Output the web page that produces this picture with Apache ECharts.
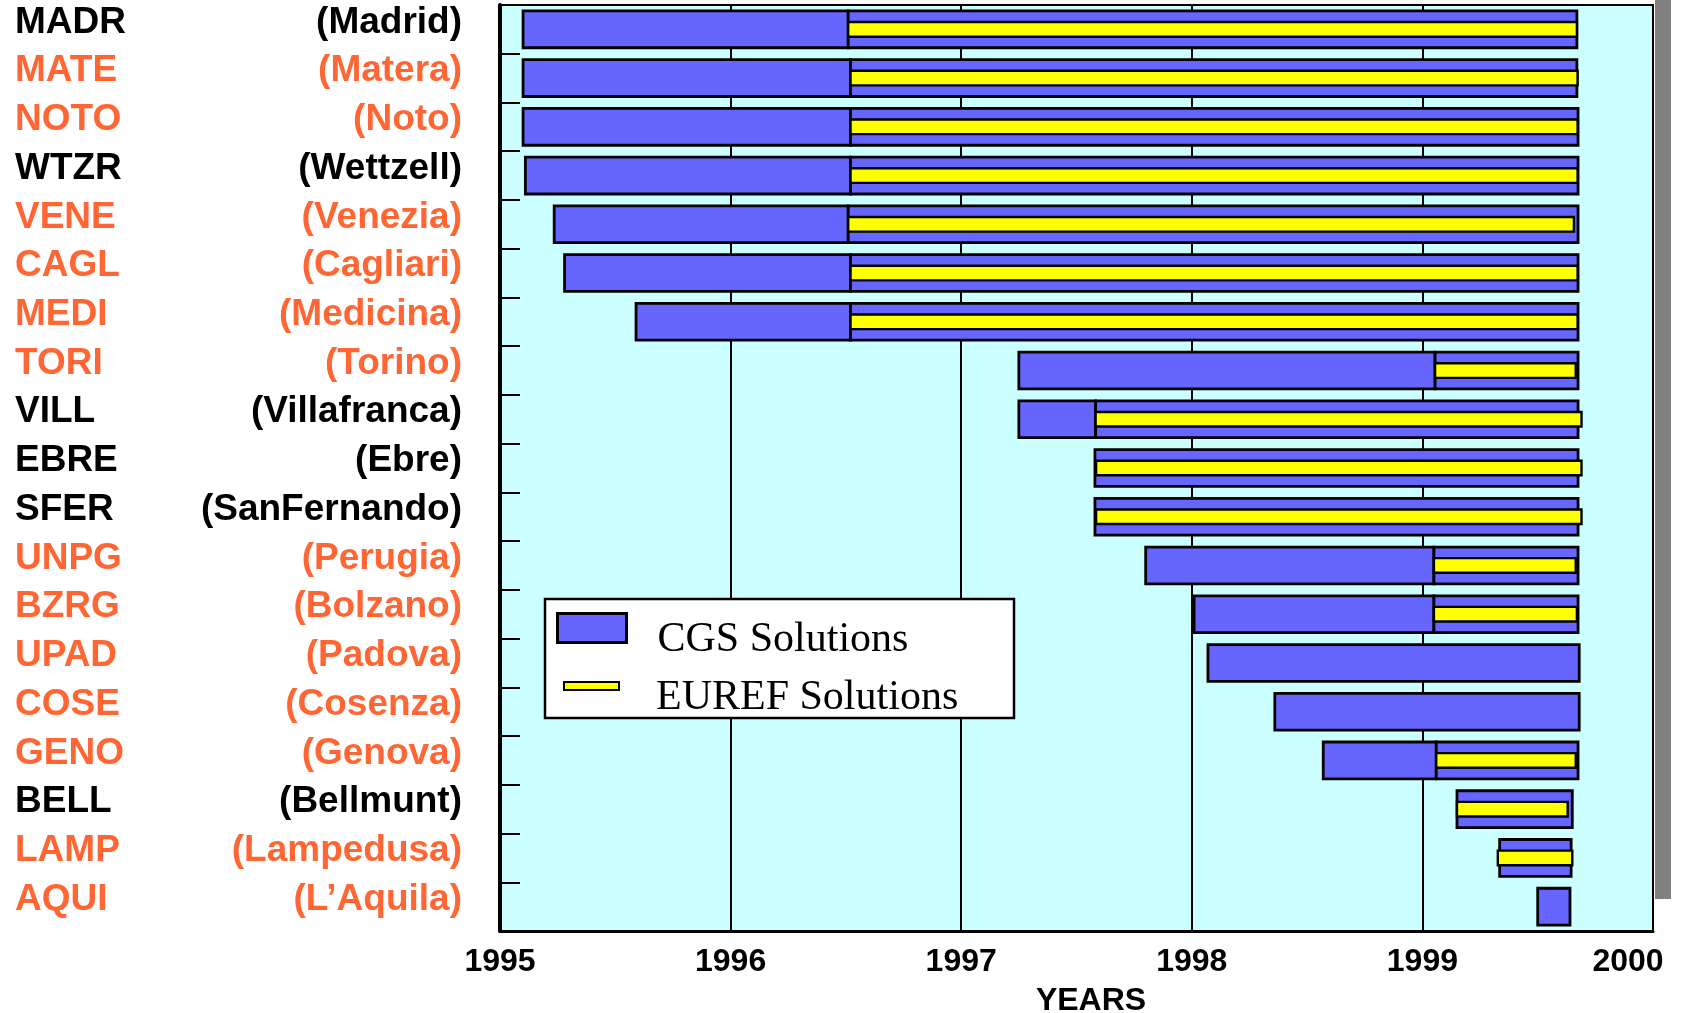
<!DOCTYPE html>
<html>
<head>
<meta charset="utf-8">
<script src="https://cdn.jsdelivr.net/npm/echarts@6/dist/echarts.min.js"></script>
<style>
html,body{margin:0;padding:0;background:#fff;}
#chart{width:1681px;height:1013px;}
</style>
</head>
<body>
<div id="chart"></div>
<script>
// ---- data ----
const stations = ['MADR','MATE','NOTO','WTZR','VENE','CAGL','MEDI','TORI','VILL','EBRE','SFER','UNPG','BZRG','UPAD','COSE','GENO','BELL','LAMP','AQUI'];
const places = ['Madrid','Matera','Noto','Wettzell','Venezia','Cagliari','Medicina','Torino','Villafranca','Ebre','SanFernando','Perugia','Bolzano','Padova','Cosenza','Genova','Bellmunt','Lampedusa','L\u2019Aquila'];
const country = ['ES','IT','IT','DE','IT','IT','IT','IT','ES','ES','ES','IT','IT','IT','IT','IT','ES','IT','IT'];
// CGS solutions span (decimal years)
const cgsStart = [1995.10,1995.10,1995.10,1995.11,1995.235,1995.28,1995.59,1997.25,1997.25,1997.58,1997.58,1997.80,1998.01,1998.07,1998.36,1998.57,1999.15,1999.335,1999.50];
const cgsEnd   = [1999.67,1999.67,1999.675,1999.675,1999.675,1999.675,1999.675,1999.675,1999.675,1999.675,1999.675,1999.675,1999.675,1999.68,1999.68,1999.675,1999.65,1999.645,1999.64];
// EUREF solutions span (null = none)
const eurefStart = [1996.51,1996.52,1996.52,1996.52,1996.51,1996.52,1996.52,1999.055,1997.583,1997.585,1997.585,1999.05,1999.05,null,null,1999.06,1999.15,1999.327,null];
const eurefEnd   = [1999.67,1999.673,1999.673,1999.673,1999.657,1999.673,1999.673,1999.665,1999.69,1999.69,1999.69,1999.665,1999.67,null,null,1999.665,1999.63,1999.65,null];
const yearTicks = [1995,1996,1997,1998,1999,2000];

// ---- build series data from the arrays ----
const cgsData = [];
const eurefData = [];
stations.forEach((s, i) => {
  const es = eurefStart[i];
  if (es !== null && es > cgsStart[i] + 0.02) {
    cgsData.push([i, cgsStart[i], es]);
    cgsData.push([i, es, cgsEnd[i]]);
  } else {
    cgsData.push([i, cgsStart[i], cgsEnd[i]]);
  }
  if (es !== null) eurefData.push([i, es, eurefEnd[i]]);
});

const BLUE = '#6666ff', YELLOW = '#ffff00', ORANGE = '#ff6633';

function makeRender(frac, fill, lw) {
  return function (params, api) {
    const cat = api.value(0);
    const p0 = api.coord([api.value(1), cat]);
    const p1 = api.coord([api.value(2), cat]);
    const h = api.size([0, 1])[1] * frac;
    return {
      type: 'rect',
      shape: { x: p0[0], y: p0[1] - h / 2, width: p1[0] - p0[0], height: h },
      style: { fill: fill, stroke: '#000', lineWidth: lw }
    };
  };
}

const labelFont = { fontFamily: 'Liberation Sans', fontWeight: 'bold', fontSize: 37 };
const chart = echarts.init(document.getElementById('chart'), null, { renderer: 'canvas' });

chart.setOption({
  animation: false,
  backgroundColor: '#fff',
  grid: { left: 500, right: 28, top: 5, bottom: 82, outerBoundsMode: 'none', containLabel: false,
          show: true, backgroundColor: '#ccffff', borderColor: '#000', borderWidth: 2 },
  xAxis: {
    type: 'value', min: 1995, max: 2000, interval: 1,
    axisLine: { show: true, onZero: false, lineStyle: { color: '#000', width: 3 } },
    axisTick: { show: false },
    splitLine: { show: true, lineStyle: { color: '#000', width: 2 } },
    axisLabel: {
      margin: 15, color: '#000', fontFamily: 'Liberation Sans', fontWeight: 'bold', fontSize: 32,
      formatter: v => (v === yearTicks[yearTicks.length - 1] ? '{e|' + v + '}' : String(v)),
      rich: { e: { padding: [0, 50, 0, 0], fontFamily: 'Liberation Sans', fontWeight: 'bold', fontSize: 32, color: '#000' } }
    },
    name: 'YEARS', nameLocation: 'middle', nameGap: 54,
    nameTextStyle: { color: '#000', fontFamily: 'Liberation Sans', fontWeight: 'bold', fontSize: 32, padding: [0, 0, 0, 29] }
  },
  yAxis: {
    type: 'category', inverse: true, data: stations,
    axisLine: { show: true, lineStyle: { color: '#000', width: 4 } },
    axisTick: { show: true, inside: true, length: 20, lineStyle: { color: '#000', width: 2 } },
    splitLine: { show: false },
    axisLabel: {
      align: 'left', margin: 485, padding: [0, 0, 14, 0],
      formatter: (v, i) => {
        const k = country[i] === 'IT' ? 'o' : 'k';
        return '{c' + k + '|' + v + '}{n' + k + '|(' + places[i] + ')}';
      },
      rich: {
        ck: Object.assign({ width: 150, align: 'left', color: '#000' }, labelFont),
        nk: Object.assign({ width: 297, align: 'right', color: '#000' }, labelFont),
        co: Object.assign({ width: 150, align: 'left', color: ORANGE }, labelFont),
        no: Object.assign({ width: 297, align: 'right', color: ORANGE }, labelFont)
      }
    }
  },
  legend: [
    {
      data: [{ name: 'CGS Solutions', icon: 'rect', itemStyle: { color: BLUE, borderColor: '#000', borderWidth: 3 } }],
      left: 556, top: 595, padding: 0, itemWidth: 69, itemHeight: 29, selectedMode: false, z: 20,
      formatter: n => '\n' + n,
      textStyle: { color: '#000', fontFamily: 'Liberation Serif', fontSize: 42, lineHeight: 24, padding: [0, 0, 0, 26] }
    },
    {
      data: [{ name: 'EUREF Solutions', icon: 'rect', itemStyle: { color: YELLOW, borderColor: '#000', borderWidth: 2 } }],
      left: 563, top: 653, padding: 0, itemWidth: 55, itemHeight: 8, selectedMode: false, z: 20,
      formatter: n => '\n' + n,
      textStyle: { color: '#000', fontFamily: 'Liberation Serif', fontSize: 42, lineHeight: 24, padding: [0, 0, 0, 32] }
    }
  ],
  graphic: [
    { type: 'rect', z: 15, shape: { x: 545, y: 599, width: 469, height: 119 }, style: { fill: '#fff', stroke: '#000', lineWidth: 2.5 } },
    { type: 'rect', z: 0, shape: { x: 1655, y: 0, width: 16, height: 899 }, style: { fill: '#808080' } }
  ],
  series: [
    {
      type: 'custom', name: 'CGS Solutions', renderItem: makeRender(0.755, BLUE, 2.8),
      itemStyle: { color: BLUE, borderColor: '#000', borderWidth: 3 },
      encode: { x: [1, 2], y: 0 }, data: cgsData, z: 3
    },
    {
      type: 'custom', name: 'EUREF Solutions', renderItem: makeRender(0.30, YELLOW, 2.4),
      itemStyle: { color: YELLOW, borderColor: '#000', borderWidth: 2 },
      encode: { x: [1, 2], y: 0 }, data: eurefData, z: 4
    }
  ]
});
</script>
</body>
</html>
